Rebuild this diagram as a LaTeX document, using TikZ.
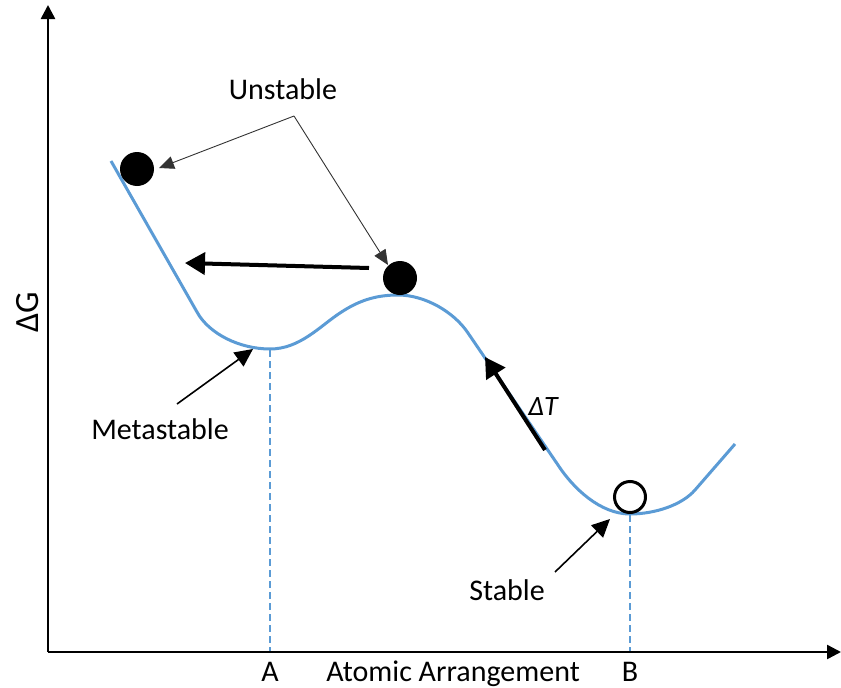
\documentclass[tikz,border=0pt]{standalone}
\usepackage{fontspec}
\setmainfont{Carlito}
\usetikzlibrary{arrows.meta}
\definecolor{curveblue}{HTML}{5B9BD5}
\begin{document}
\begin{tikzpicture}[x=1pt,y=-1pt,
  lbl/.style={font=\fontsize{30}{35}\selectfont, inner sep=0pt, anchor=base},
  thinarrow/.style={draw=black!80, line width=0.9pt, -{Triangle[length=15pt,width=13pt]}},
  bigarrow/.style={line width=4pt, -{Triangle[length=20pt,width=22pt]}},
  midarrow/.style={line width=1.6pt, -{Triangle[length=18pt,width=17pt]}},
  axisline/.style={line width=2.5pt, -{Triangle[length=14pt,width=14pt]}},
  ball/.style={circle, fill=black, minimum size=34pt, inner sep=0pt},
  openball/.style={circle, draw=black, line width=3pt, fill=white, minimum size=31pt, inner sep=0pt},
  curve/.style={draw=curveblue, line width=3pt},
  dashline/.style={draw=curveblue, line width=1.8pt, dash pattern=on 7pt off 4pt}]
\useasboundingbox (0,0) rectangle (841,688);
% axes
\coordinate (O) at (48,652);
\coordinate (ytop) at (48,5);
\coordinate (xend) at (841,652);
\draw[axisline] (O) -- (ytop);
\draw[axisline] (O) -- (xend);
% curve
\draw[curve] (111,161) -- (197,312) .. controls (209,334) and (240,349) .. (270,349)
  .. controls (300,349) and (320,326) .. (340,313)
  .. controls (358,301) and (375,295) .. (398,295)
  .. controls (425,295) and (454,312) .. (468,333)
  -- (558,465) .. controls (573,488) and (600,514) .. (630,514)
  .. controls (655,514) and (682,505) .. (695,490) -- (735,444);
% dashed drop lines
\coordinate (Amin) at (270,350);
\coordinate (Aax) at (270,651);
\coordinate (Bmin) at (630,515);
\coordinate (Bax) at (630,651);
\draw[dashline] (Amin) -- (Aax);
\draw[dashline] (Bmin) -- (Bax);
% balls
\node[ball] (ball1) at (137,169) {};
\node[ball] (ball2) at (400,278) {};
\node[openball] (ball3) at (630,497) {};
% labels
\node[lbl] (unst) at (283,99) {Unstable};
\node[lbl] (meta) at (160,439) {Metastable};
\node[lbl] (stab) at (507,600) {Stable};
\node[lbl] (labA) at (270,681) {A};
\node[lbl] (labX) at (453,681) {Atomic Arrangement};
\node[lbl] (labB) at (630,681) {B};
\node[lbl, font=\fontsize{34}{40}\selectfont, rotate=90] (labG) at (38,312) {ΔG};
\node[lbl, font=\fontsize{28}{34}\selectfont\itshape] (labT) at (543,415) {ΔT};
% Unstable pointers
\coordinate (apex) at (294,116);
\coordinate (tip1) at (159,168);
\coordinate (tip2) at (388,265);
\draw[thinarrow] (apex) -- (tip1);
\draw[thinarrow] (apex) -- (tip2);
% metastable / stable pointers
\coordinate (mstart) at (177,404);
\coordinate (mtip) at (253,349);
\draw[midarrow] (mstart) -- (mtip);
\coordinate (sstart) at (555,572);
\coordinate (stip) at (610,519);
\draw[midarrow] (sstart) -- (stip);
% thick arrows
\coordinate (hstart) at (369,268);
\coordinate (htip) at (185,263);
\draw[bigarrow] (hstart) -- (htip);
\coordinate (tstart) at (545,450);
\coordinate (ttip) at (485,357);
\draw[bigarrow] (tstart) -- (ttip);
\end{tikzpicture}
\end{document}
